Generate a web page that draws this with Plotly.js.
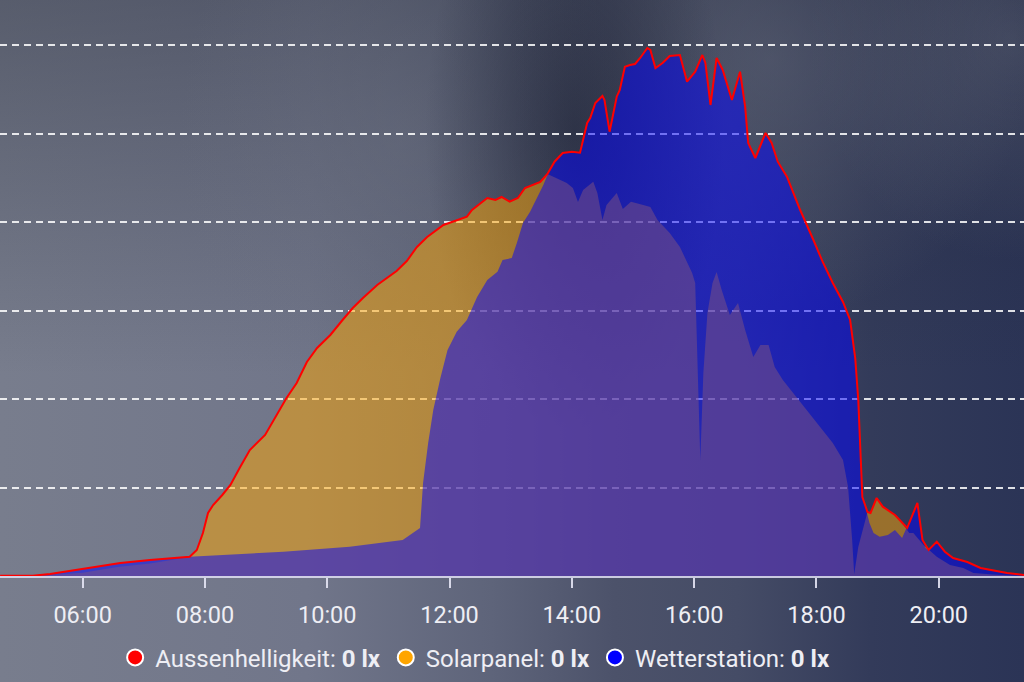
<!DOCTYPE html>
<html>
<head>
<meta charset="utf-8">
<script src="https://cdn.plot.ly/plotly-3.0.1.min.js"></script>
<style>
  html, body { margin: 0; padding: 0; }
  body {
    width: 1024px; height: 682px; overflow: hidden;
    background:
      radial-gradient(ellipse 150px 300px at 575px 130px, rgba(30,35,55,0.65), rgba(30,35,55,0) 100%),
      radial-gradient(ellipse 260px 260px at 770px 60px, rgba(110,115,132,0.40), rgba(110,115,132,0) 100%),
      radial-gradient(ellipse 220px 320px at 400px 140px, rgba(112,117,132,0.35), rgba(112,117,132,0) 100%),
      radial-gradient(ellipse 200px 220px at 1010px 40px, rgba(95,100,118,0.45), rgba(95,100,118,0) 100%),
      linear-gradient(to bottom, rgba(35,40,55,0.38) 0%, rgba(35,40,55,0) 55%),
      linear-gradient(to right, #787d8d 0%, #71768a 30%, #5e647a 48%, #4c526a 60%, #454c66 72%, #333b5a 85%, #2b3456 100%);
  }
  #chart { width: 1024px; height: 682px; }
</style>
</head>
<body>
<div id="chart"></div>
<script>
const day = "2024-06-21 ";

const aussenTimes = ["04:39","05:11","05:28","06:00","06:37","07:06","07:45","07:52","07:58","08:03","08:08","08:17","08:25","08:34","08:44","08:59","09:09","09:20","09:30","09:40","09:50","10:03","10:15","10:25","10:35","10:49","11:08","11:18","11:28","11:38","11:54","12:07","12:17","12:22","12:37","12:45","12:51","12:59","13:07","13:14","13:29","13:36","13:43","13:51","14:00","14:08","14:11","14:15","14:18","14:23","14:30","14:32","14:37","14:40","14:44","14:47","14:52","14:57","15:02","15:07","15:14","15:17","15:22","15:29","15:36","15:46","15:53","16:01","16:08","16:11","16:16","16:22","16:28","16:37","16:45","16:50","16:53","17:00","17:10","17:16","17:22","17:31","17:44","17:57","18:06","18:16","18:26","18:33","18:38","18:41","18:43","18:45","18:47","18:50","18:53","18:59","19:05","19:17","19:29","19:39","19:44","19:50","19:58","20:06","20:14","20:28","20:41","21:07","21:24"];
const aussenLux = [30,30,226,791,1469,1808,2181,2938,4859,7119,8023,9153,10283,12204,14238,15933,17854,20114,21809,24182,25764,27233,28928,30284,31414,32883,34465,35595,37177,38307,39663,40228,40601,41358,42714,42488,42827,42296,42714,43844,44522,45426,46816,47799,47946,47833,49268,51189,51754,53449,54240,53788,50206,51901,54161,54918,57551,57743,57856,58534,59664,59438,57404,57969,58760,58873,55856,56986,58873,57969,53223,58534,57178,53788,56986,53031,48929,47234,50059,48929,46816,45121,41358,37968,35516,33109,30962,28928,24634,19888,14577,8927,8249,7232,7119,8814,7831,6893,5424,8249,4068,2938,3876,2746,2034,1582,904,339,113];

const solarTimes = ["04:39","05:28","06:00","06:34","07:06","07:45","07:52","07:58","08:03","08:08","08:17","08:25","08:34","08:44","08:59","09:09","09:20","09:30","09:40","09:50","10:03","10:15","10:25","10:35","10:49","11:08","11:18","11:28","11:38","11:54","12:07","12:17","12:22","12:37","12:45","12:51","12:59","13:07","13:14","13:29","13:36","13:45","13:55","14:01","14:06","14:11","14:21","14:25","14:30","14:34","14:44","14:50","14:58","15:10","15:17","15:24","15:36","15:46","15:53","15:58","16:01","16:06","16:09","16:13","16:18","16:22","16:27","16:35","16:43","16:50","16:58","17:05","17:13","17:19","17:27","17:37","17:51","18:04","18:16","18:26","18:31","18:35","18:37","18:41","18:46","18:50","18:53","18:59","19:05","19:17","19:27","19:31","19:35","19:45","19:58","20:11","20:24","20:34","20:53","21:24"];
const solarLux = [0,113,373,1017,1413,2150,2938,4859,7119,8023,9153,10283,12204,14238,15933,17854,20114,21809,24182,25764,27233,28928,30284,31414,32883,34465,35595,37177,38307,39663,40228,40601,41358,42714,42488,42827,42296,42714,43844,44522,45426,44974,44409,43844,42262,43618,44556,43279,40228,41923,43279,41471,42296,41923,41697,40228,38759,37177,35369,34239,33109,13108,22939,29719,33109,34352,32318,29493,30849,27798,24747,26103,26103,23617,22148,20679,18758,16837,15029,13108,10057,4068,200,3277,5537,7232,7119,8814,7831,6893,5537,4859,4859,3503,2181,1243,904,339,170,0];

const wetterTimes = ["04:39","05:11","05:28","06:00","06:37","07:06","07:45","09:17","10:22","11:14","11:24","11:31","11:34","11:39","11:44","11:51","11:58","12:07","12:17","12:27","12:37","12:47","12:52","13:01","13:06","13:12","13:19","13:26","13:32","13:36","13:43","13:51","14:00","14:08","14:11","14:15","14:18","14:23","14:30","14:32","14:37","14:40","14:44","14:47","14:52","14:57","15:02","15:07","15:14","15:17","15:22","15:29","15:36","15:46","15:53","16:01","16:08","16:11","16:16","16:22","16:28","16:37","16:45","16:50","16:53","17:00","17:10","17:16","17:22","17:31","17:44","17:57","18:06","18:16","18:26","18:33","18:38","18:41","18:43","18:45","18:47","18:50","18:52","18:56","19:02","19:10","19:17","19:24","19:27","19:29","19:39","19:44","19:47","19:50","19:58","20:06","20:14","20:28","20:41","21:07","21:24"];
const wetterLux = [30,30,226,791,1469,1808,2181,2746,3311,4068,4859,5424,10509,15029,18758,22374,25538,27606,28928,31527,33448,34386,35708,35934,37629,39889,41166,42714,44183,45313,46816,47799,47946,47833,49268,51189,51754,53449,54240,53788,50206,51901,54161,54918,57551,57743,57856,58534,59664,59438,57404,57969,58760,58873,55856,56986,58873,57969,53223,58534,57178,53788,56986,53031,48929,47234,50059,48929,46816,45121,41358,37968,35516,33109,30962,28928,24634,19888,14577,8927,8249,6893,5989,4859,4441,4633,5198,4294,5085,5424,8249,4068,3164,2938,3876,2746,2034,1582,904,339,113];

const tickHours = ["06:00","08:00","10:00","12:00","14:00","16:00","18:00","20:00"];

const legendNames = ["Aussenhelligkeit: <b>0 lx</b>", "Solarpanel: <b>0 lx</b>", "Wetterstation: <b>0 lx</b>"];
const legendColors = ["#ff0000", "#ffa500", "#0000ff"];

const toX = arr => arr.map(t => day + t);

const traces = [
  {
    x: toX(solarTimes), y: solarLux, type: "scatter", mode: "lines",
    fill: "tozeroy", fillcolor: "rgba(255,165,0,0.5)",
    line: { width: 0, color: "rgba(255,165,0,0)" }, showlegend: false, hoverinfo: "skip"
  },
  {
    x: toX(wetterTimes), y: wetterLux, type: "scatter", mode: "lines",
    fill: "tozeroy", fillcolor: "rgba(0,0,255,0.5)",
    line: { width: 0, color: "rgba(0,0,255,0)" }, showlegend: false, hoverinfo: "skip"
  },
  {
    x: toX(aussenTimes), y: aussenLux, type: "scatter", mode: "lines",
    line: { width: 2, color: "#ff0000" }, showlegend: false, hoverinfo: "skip"
  }
];
legendNames.forEach((n, i) => {
  traces.push({
    x: [null], y: [null], type: "scatter", mode: "markers", name: n,
    marker: { size: 16, color: legendColors[i], line: { color: "#ffffff", width: 2 } },
    showlegend: true
  });
});

const layout = {
  width: 1024, height: 682,
  margin: { l: 0, r: 0, t: 0, b: 106, pad: 0 },
  paper_bgcolor: "rgba(0,0,0,0)",
  plot_bgcolor: "rgba(0,0,0,0)",
  font: { family: "Roboto, sans-serif", color: "#eeeef4" },
  xaxis: {
    type: "date",
    range: [day + "04:38:54", day + "21:23:36"],
    tickvals: toX(tickHours), ticktext: tickHours,
    showgrid: false, zeroline: false,
    showline: true, linecolor: "rgba(225,225,245,0.85)", linewidth: 2,
    ticks: "outside", ticklen: 10, tickwidth: 2, tickcolor: "rgba(230,230,245,0.9)",
    tickfont: { family: "Roboto, sans-serif", size: 23.5, color: "#eeeef4" },
    ticklabelstandoff: 7,
    automargin: false, fixedrange: true
  },
  yaxis: {
    range: [0, 65088], dtick: 10000, tick0: 0,
    showticklabels: false, ticks: "",
    showgrid: true, gridcolor: "rgba(255,255,255,0.85)", gridwidth: 2, griddash: "7px,5px",
    zeroline: false, showline: false, automargin: false, fixedrange: true
  },
  showlegend: true,
  legend: {
    orientation: "h", x: 0.464, xanchor: "center", y: -0.142, yanchor: "middle",
    bgcolor: "rgba(0,0,0,0)", font: { family: "Roboto, sans-serif", size: 24, color: "#eeeef4" },
    itemclick: false, itemdoubleclick: false
  }
};

Plotly.newPlot("chart", traces, layout, { staticPlot: true, displayModeBar: false });
</script>
</body>
</html>
